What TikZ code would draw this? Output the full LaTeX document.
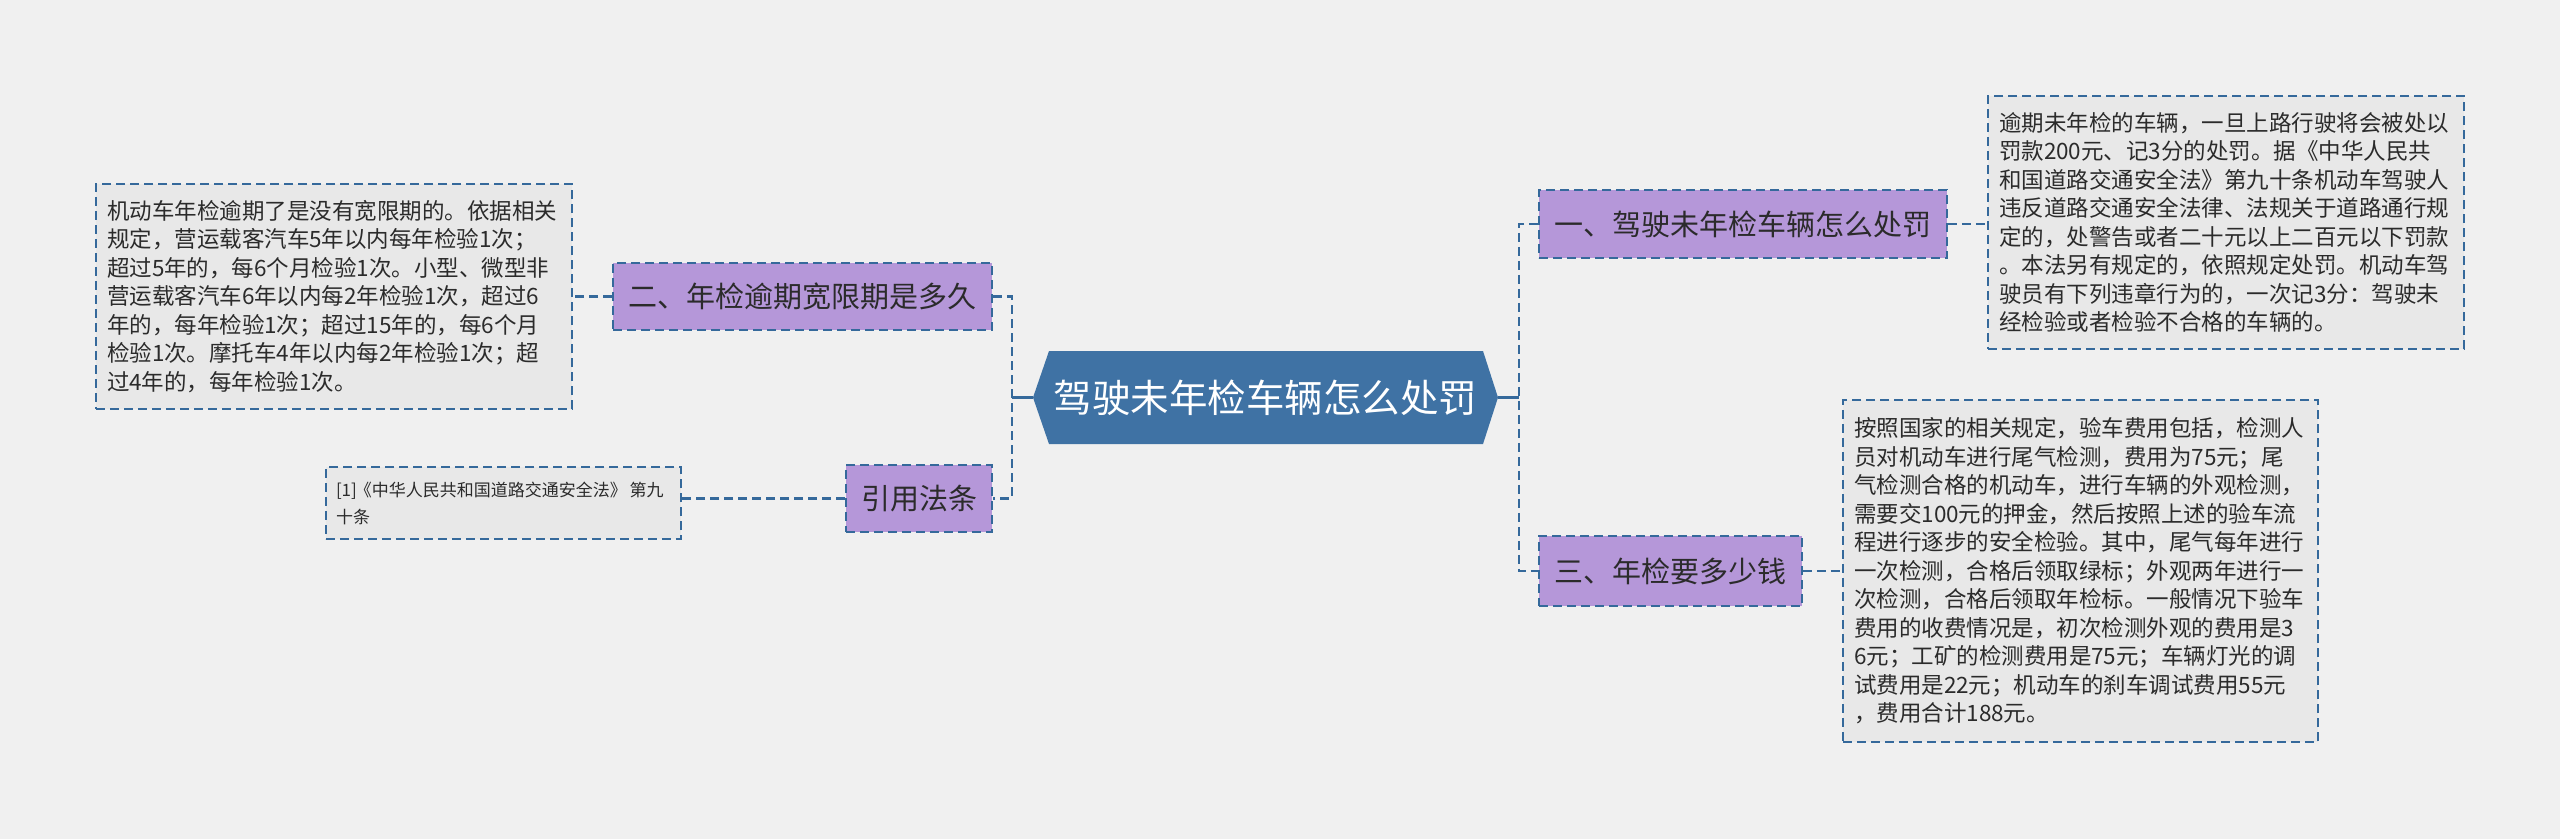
\documentclass[tikz,border=0pt]{standalone}
\usepackage{fontspec}
\setmainfont{Noto Sans CJK SC}
\usetikzlibrary{calc}
\definecolor{bg}{HTML}{F0F0F0}
\definecolor{hexblue}{HTML}{3F72A4}
\definecolor{lineblue}{HTML}{35699B}
\definecolor{purp}{HTML}{B597D9}
\definecolor{leafgray}{HTML}{E8E8E8}
\definecolor{txt}{HTML}{2B2B2B}
\begin{document}
\begin{tikzpicture}[x=1pt,y=-1pt,
  leaf/.style={draw=lineblue, line width=1.8pt, dash pattern=on 9pt off 5pt, fill=leafgray, inner sep=0pt, align=left, text=txt, font=\fontsize{22.5pt}{28.5pt}\selectfont},
  topic/.style={draw=lineblue, line width=1.8pt, dash pattern=on 9pt off 5pt, fill=purp, inner sep=0pt, text=txt, font=\fontsize{29pt}{34pt}\selectfont},
  conn/.style={draw=lineblue, line width=2.2pt, dash pattern=on 9pt off 5pt},
  trunk/.style={draw=lineblue, line width=2.6pt}]
\fill[bg] (0,0) rectangle (2560,839);
\useasboundingbox (0,0) rectangle (2560,839);

% central hexagon
\fill[hexblue] (1033,397.5) -- (1049,351) -- (1483,351) -- (1498,397.5) -- (1483,444) -- (1049,444) -- cycle;
\node[minimum width=465pt, minimum height=93pt, inner sep=0pt, text=white, font=\fontsize{38.5pt}{44pt}\selectfont] (c) at (1265.5,397.5) {驾驶未年检车辆怎么处罚};

% topics
\node[topic, minimum width=379pt, minimum height=67pt] (n2) at (802.5,296.5) {二、年检逾期宽限期是多久};
\node[topic, minimum width=146pt, minimum height=67pt] (n4) at (919,498.5) {引用法条};
\node[topic, minimum width=408pt, minimum height=68pt] (n1) at (1743,224) {一、驾驶未年检车辆怎么处罚};
\node[topic, minimum width=263pt, minimum height=70pt] (n3) at (1670.5,571) {三、年检要多少钱};

% leaves
\node[leaf, minimum width=476pt, minimum height=225pt, text width=454pt] (l2) at (334,296.5) {机动车年检逾期了是没有宽限期的。依据相关\\规定，营运载客汽车5年以内每年检验1次；\\超过5年的，每6个月检验1次。小型、微型非\\营运载客汽车6年以内每2年检验1次，超过6\\年的，每年检验1次；超过15年的，每6个月\\检验1次。摩托车4年以内每2年检验1次；超\\过4年的，每年检验1次。};
\node[leaf, minimum width=355pt, minimum height=72pt, text width=335pt, font=\fontsize{17pt}{27pt}\selectfont] (l4) at (503.5,503) {\mbox{[1]\hspace{-2pt}《中华人民共和国道路交通安全法》\hspace{-3pt} 第九}\\十条};
\node[leaf, minimum width=476pt, minimum height=253pt, text width=454pt] (l1) at (2226,222.5) {逾期未年检的车辆，一旦上路行驶将会被处以\\罚款200元、记3分的处罚。据《中华人民共\\和国道路交通安全法》第九十条机动车驾驶人\\违反道路交通安全法律、法规关于道路通行规\\定的，处警告或者二十元以上二百元以下罚款\\。本法另有规定的，依照规定处罚。机动车驾\\驶员有下列违章行为的，一次记3分：驾驶未\\经检验或者检验不合格的车辆的。};
\node[leaf, minimum width=475pt, minimum height=342pt, text width=453pt] (l3) at (2080.5,571) {按照国家的相关规定，验车费用包括，检测人\\员对机动车进行尾气检测，费用为75元；尾\\气检测合格的机动车，进行车辆的外观检测，\\需要交100元的押金，然后按照上述的验车流\\程进行逐步的安全检验。其中，尾气每年进行\\一次检测，合格后领取绿标；外观两年进行一\\次检测，合格后领取年检标。一般情况下验车\\费用的收费情况是，初次检测外观的费用是3\\6元；工矿的检测费用是75元；车辆灯光的调\\试费用是22元；机动车的刹车调试费用55元\\，费用合计188元。};

% trunks
\coordinate (tl) at (1012,397.5);
\coordinate (tr) at (1519,397.5);
\draw[trunk] (c.west) -- (tl);
\draw[trunk] (c.east) -- (tr);
\draw[conn] (n2.east) -- (n2.east -| tl) -- (n4.east -| tl) -- (n4.east);
\draw[conn] (n1.west) -- (n1.west -| tr) -- (n3.west -| tr) -- (n3.west);

% leaf connectors
\draw[conn] (n2.west) -- (n2.west -| l2.east);
\draw[conn] (n4.west) -- (n4.west -| l4.east);
\draw[conn] (n1.east) -- (n1.east -| l1.west);
\draw[conn] (n3.east) -- (n3.east -| l3.west);
\end{tikzpicture}
\end{document}
